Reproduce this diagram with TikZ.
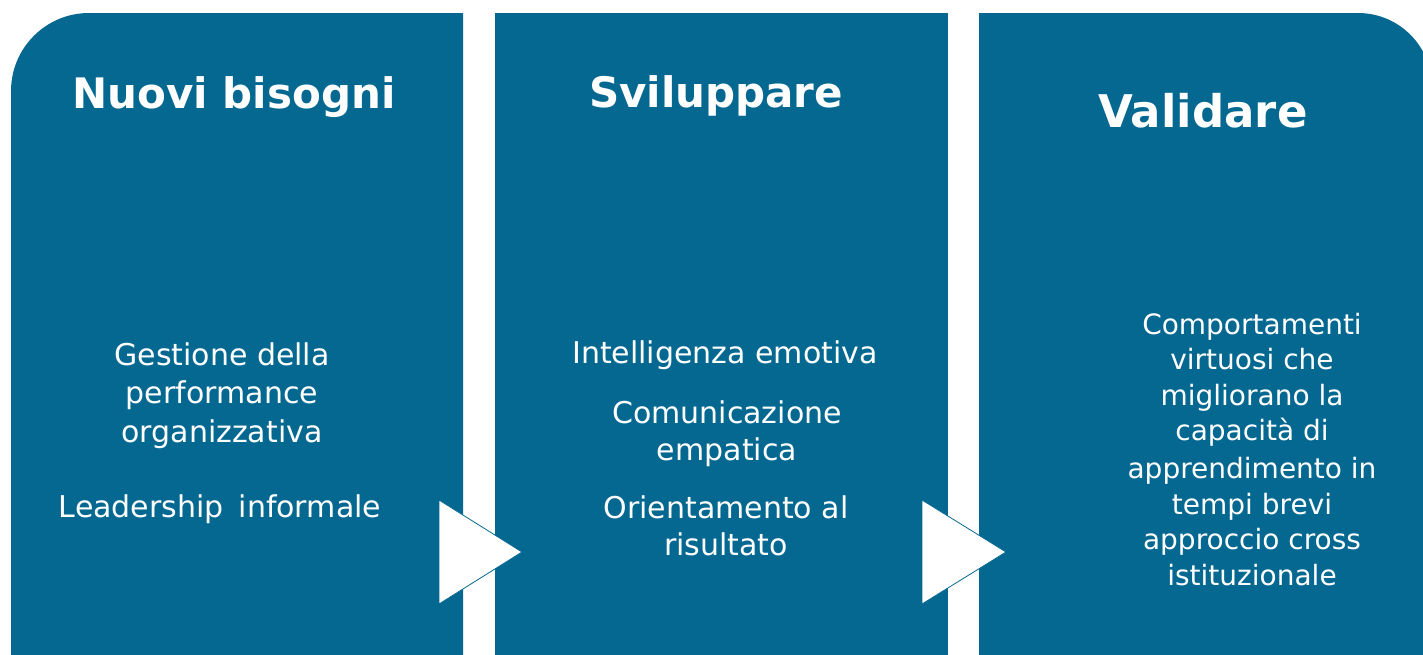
\documentclass[tikz,border=0pt]{standalone}
\usepackage{fontspec}
\setmainfont{DejaVu Sans}
\usepackage{tikz}
\usetikzlibrary{positioning}
\definecolor{stepblue}{RGB}{5, 104, 145}

\begin{document}
\begin{tikzpicture}[x=0.5pt, y=-0.5pt,
  title/.style={text=white, anchor=base, inner sep=0pt, font=\bfseries\fontsize{21}{26}\selectfont},
  body/.style={text=white, anchor=base, inner sep=0pt, align=center, font=\fontsize{15}{19.25}\selectfont},
  chevron/.style={fill=white, draw=stepblue, line width=0.4pt}]
  \clip (0,0) rectangle (1423,654);
  % Panels
  \fill[stepblue] (11,680) -- (11,91) arc[start angle=180, end angle=270, radius=78] -- (463,13) -- (463,680) -- cycle;
  \fill[stepblue] (495,13) rectangle (948,680);
  \fill[stepblue] (979,680) -- (979,13) -- (1358,13) arc[start angle=270, end angle=360, radius=74] -- (1432,680) -- cycle;
  % Arrow heads between panels
  \filldraw[chevron] (439,500) -- (522,552) -- (439,604) -- cycle;
  \filldraw[chevron] (922,500) -- (1006,552) -- (922,604) -- cycle;
  % Titles (base = baseline)
  \node[title] (needs) at (234,108) {Nuovi bisogni};
  \node[title] (develop) at (716,107) {Sviluppare};
  \node[title, font=\bfseries\fontsize{22.5}{27}\selectfont] (validate) at (1203,127) {Validare};
  % Panel texts (base = baseline of the last line)
  \node[body] (perf) at (222,442) {Gestione della\\performance\\organizzativa};
  \node[body] (leader) at (220,517) {Leadership\enspace informale};
  \node[body, font=\fontsize{15}{18.5}\selectfont] (emo) at (725,363) {Intelligenza emotiva};
  \node[body, font=\fontsize{15}{18.5}\selectfont] (comm) at (727,460) {Comunicazione\\empatica};
  \node[body, font=\fontsize{15}{18.5}\selectfont] (result) at (726,555) {Orientamento al\\risultato};
  \node[body, font=\fontsize{14}{17.7}\selectfont] (behav) at (1252,585) {Comportamenti\\virtuosi che\\migliorano la\\capacità di\\[1.5pt]apprendimento in\\tempi brevi\\approccio cross\\istituzionale};
\end{tikzpicture}
\end{document}
